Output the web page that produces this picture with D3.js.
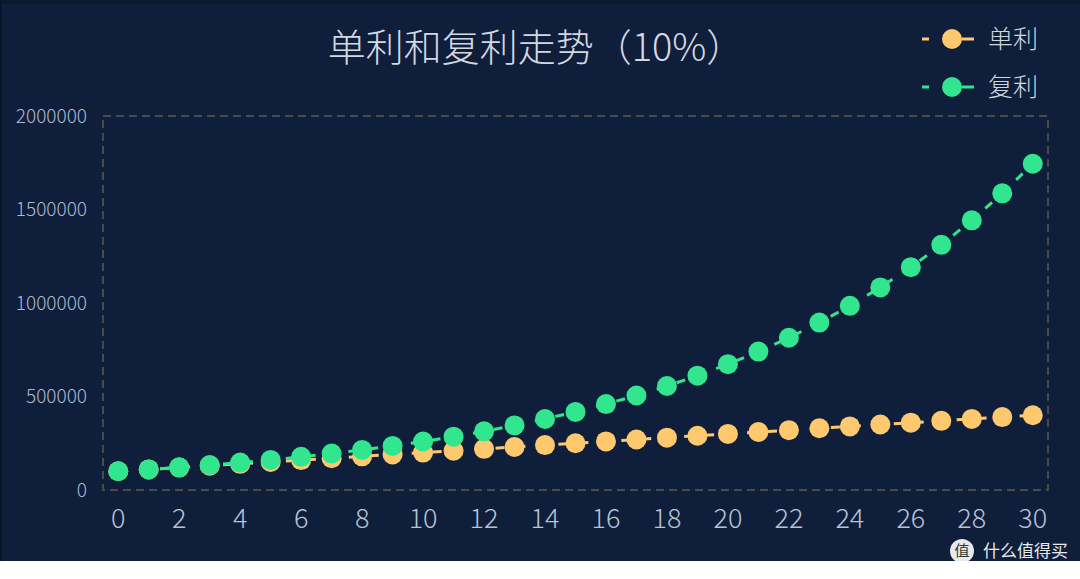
<!DOCTYPE html>
<html>
<head>
<meta charset="utf-8">
<script src="https://cdn.jsdelivr.net/npm/d3@7"></script>
<style>
html,body{margin:0;padding:0;background:#ffffff;}
svg{display:block;}
text{font-family:"Noto Sans CJK SC","Noto Sans",sans-serif;}
</style>
</head>
<body>
<svg id="chart" width="1080" height="579"></svg>
<script>
const years = [0,1,2,3,4,5,6,7,8,9,10,11,12,13,14,15,16,17,18,19,20,21,22,23,24,25,26,27,28,29,30];
const simpleValues = [100000,110000,120000,130000,140000,150000,160000,170000,180000,190000,200000,210000,220000,230000,240000,250000,260000,270000,280000,290000,300000,310000,320000,330000,340000,350000,360000,370000,380000,390000,400000];
const compoundValues = [100000,110000,121000,133100,146410,161051,177156,194872,214359,235795,259374,285312,313843,345227,379750,417725,459497,505447,555992,611591,672750,740025,814027,895430,984973,1083471,1191818,1311000,1442099,1586309,1744940];
const yTicks = [0,500000,1000000,1500000,2000000];
const xTickLabels = [0,2,4,6,8,10,12,14,16,18,20,22,24,26,28,30];
const seriesNames = ["单利","复利"];
const seriesColors = ["#fec96e","#32e58f"];
const titleText = "单利和复利走势（10%）";

const svg = d3.select("#chart");
svg.append("rect").attr("x",0).attr("y",0).attr("width",1080).attr("height",561).attr("fill","#0f1e3b");
svg.append("rect").attr("x",0).attr("y",0).attr("width",1080).attr("height",4).attr("fill","#0c1830");
svg.append("rect").attr("x",0).attr("y",0).attr("width",2).attr("height",561).attr("fill","#0a1428");

const L = 103, R = 1048, T = 116, B = 490;
const x = d3.scaleBand().domain(years).range([L,R]);
const y = d3.scaleLinear().domain([0,2000000]).range([B,T]);

svg.append("rect").attr("x",L).attr("y",T).attr("width",R-L).attr("height",B-T)
  .attr("fill","none").attr("stroke","#4b4a47").attr("stroke-width",2).attr("stroke-dasharray","8,5");

const yAxis = d3.axisLeft(y).tickValues(yTicks).tickSize(0).tickPadding(16).tickFormat(d3.format("d"));
const gy = svg.append("g").attr("transform",`translate(${L},0)`).call(yAxis);
gy.select(".domain").remove();
gy.selectAll("text").attr("fill","#aebad0").attr("font-size",19).attr("font-weight",300).attr("dy","0.32em");

const xAxis = d3.axisBottom(x).tickValues(xTickLabels).tickSize(0).tickPadding(22);
const gx = svg.append("g").attr("transform",`translate(0,${B})`).call(xAxis);
gx.select(".domain").remove();
gx.selectAll("text").attr("fill","#b8c2d4").attr("font-size",27).attr("font-weight",300).attr("dy","0.6em");

const cx = d => x(d) + x.bandwidth()/2;
const data = [simpleValues, compoundValues];
const line = d3.line().x((d,i)=>cx(years[i])).y(d=>y(d));

data.forEach((vals,si)=>{
  const g = svg.append("g");
  g.append("path").datum(vals).attr("d",line).attr("fill","none")
    .attr("stroke",seriesColors[si]).attr("stroke-width",3).attr("stroke-dasharray","9,12");
  g.selectAll("circle").data(vals).join("circle")
    .attr("cx",(d,i)=>cx(years[i])).attr("cy",d=>y(d)).attr("r",10)
    .attr("fill",seriesColors[si]);
});

svg.append("text").attr("x",536).attr("y",61).attr("text-anchor","middle")
  .attr("font-size",38).attr("fill","#d3d8e0").attr("font-weight",300).text(titleText);

seriesNames.forEach((n,i)=>{
  const ly = 39 + i*48;
  const g = svg.append("g");
  g.append("line").attr("x1",922).attr("x2",929).attr("y1",ly).attr("y2",ly)
    .attr("stroke",seriesColors[i]).attr("stroke-width",3);
  g.append("line").attr("x1",962).attr("x2",974).attr("y1",ly).attr("y2",ly)
    .attr("stroke",seriesColors[i]).attr("stroke-width",3);
  g.append("circle").attr("cx",952).attr("cy",ly).attr("r",10).attr("fill",seriesColors[i]);
  g.append("text").attr("x",988).attr("y",ly).attr("dy","0.36em").attr("font-size",25)
    .attr("font-weight",300).attr("fill","#cfd5de").text(n);
});

svg.append("circle").attr("cx",962).attr("cy",551).attr("r",12).attr("fill","#ffffff").attr("opacity",0.9);
svg.append("text").attr("x",962).attr("y",551).attr("dy","0.36em").attr("text-anchor","middle")
  .attr("font-size",15).attr("fill","#333").text("值");
svg.append("text").attr("x",983).attr("y",551).attr("dy","0.36em")
  .attr("font-size",17).attr("fill","#ffffff").attr("opacity",0.9).text("什么值得买");
</script>
</body>
</html>
